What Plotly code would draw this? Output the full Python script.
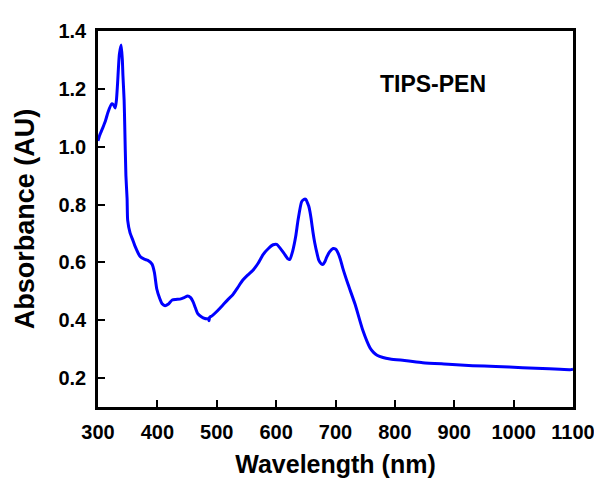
import plotly.graph_objects as go

# UV-vis spectrum of TIPS-PEN
wavelength = [300, 303, 308, 312, 317, 323, 326, 329, 331, 333, 336, 339, 341, 342, 344,
              345, 347, 349, 350, 354, 359, 362, 371, 378, 384, 391, 395, 399, 404, 408,
              413, 418, 425, 431, 438, 445, 451, 456, 460, 464, 468, 474, 480, 484, 486,
              487, 488, 492, 500, 510, 520, 527, 535, 544, 552, 561, 570, 578, 587, 595,
              601, 606, 613, 620, 623, 628, 633, 637, 643, 647, 650, 653, 655, 657, 659,
              662, 665, 669, 672, 676, 679, 682, 685, 690, 696, 700, 703, 708, 712, 721,
              733, 746, 758, 764, 770, 780, 792, 820, 847, 890, 931,
              970, 1015, 1060, 1095, 1100]
absorbance = [1.02, 1.04, 1.065, 1.086, 1.12, 1.148, 1.145, 1.134, 1.16, 1.22, 1.32, 1.352, 1.30, 1.246, 1.16,
              1.076, 0.90, 0.82, 0.745, 0.702, 0.675, 0.658, 0.62, 0.611, 0.607, 0.594, 0.565, 0.508, 0.475, 0.457,
              0.450, 0.455, 0.470, 0.472, 0.473, 0.478, 0.484, 0.478, 0.464, 0.443, 0.423, 0.412, 0.406, 0.405, 0.404,
              0.398, 0.410, 0.415, 0.430, 0.452, 0.474, 0.488, 0.512, 0.539, 0.556, 0.573, 0.598, 0.627, 0.648, 0.661,
              0.662, 0.651, 0.632, 0.612, 0.610, 0.640, 0.690, 0.747, 0.810, 0.818, 0.818, 0.805, 0.794, 0.775, 0.750,
              0.705, 0.668, 0.630, 0.607, 0.595, 0.593, 0.602, 0.617, 0.636, 0.648, 0.646, 0.638, 0.612, 0.582, 0.525,
              0.455, 0.365, 0.305, 0.289, 0.279, 0.271, 0.266, 0.260, 0.253, 0.248, 0.243,
              0.240, 0.236, 0.232, 0.229, 0.231]

x_ticks = [300, 400, 500, 600, 700, 800, 900, 1000, 1100]
y_ticks = [0.2, 0.4, 0.6, 0.8, 1.0, 1.2, 1.4]

fig = go.Figure()
fig.add_trace(go.Scatter(
    x=wavelength, y=absorbance, mode="lines",
    line=dict(color="#0000FF", width=3, shape="spline", smoothing=0.6),
    showlegend=False,
))

font = dict(family="Liberation Sans, Arial, sans-serif", color="black")

fig.update_layout(
    width=602, height=483,
    margin=dict(l=90, r=37, t=17, b=84),
    paper_bgcolor="white", plot_bgcolor="white",
    font=font,
    xaxis=dict(
        range=[300, 1100], tickvals=x_ticks,
        ticktext=["<b>%d</b>" % v for v in x_ticks],
        tickfont=dict(size=20), ticks="inside", ticklen=7, tickwidth=2, tickcolor="black",
        ticklabelstandoff=5,
        showline=True, linewidth=2.5, linecolor="black", mirror=True,
        showgrid=False, zeroline=False,
        title=dict(text="<b>Wavelength (nm)</b>", font=dict(size=25), standoff=14),
    ),
    yaxis=dict(
        range=[0.1, 1.4], tickvals=y_ticks,
        ticktext=["<b>%.1f</b>" % v for v in y_ticks],
        tickfont=dict(size=20), ticks="inside", ticklen=7, tickwidth=2, tickcolor="black",
        ticklabelstandoff=5,
        showline=True, linewidth=2.5, linecolor="black", mirror=True,
        showgrid=False, zeroline=False,
        title=dict(text="<b>Absorbance (AU)</b>", font=dict(size=27), standoff=16),
    ),
    annotations=[dict(
        x=0.82, y=0.9, xref="paper", yref="paper", showarrow=False,
        text="<b>TIPS-PEN</b>", font=dict(size=23, color="black"),
    )],
)

fig.write_html("out.html")
